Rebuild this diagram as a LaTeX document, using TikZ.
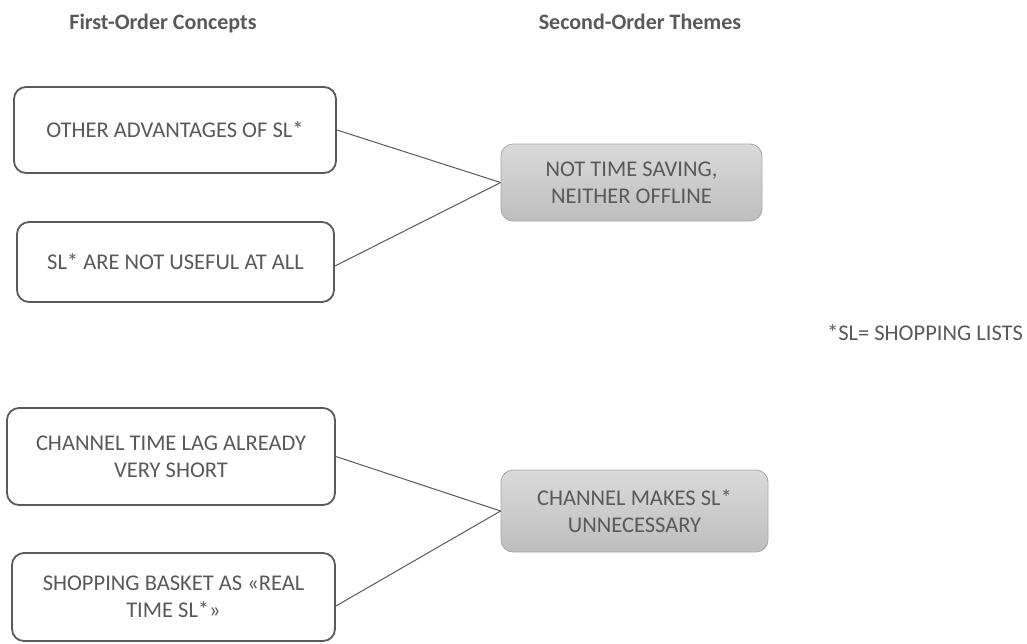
\documentclass[tikz,border=0pt]{standalone}
\usepackage{fontspec}
\setmainfont{Carlito}
\definecolor{txt}{HTML}{595959}
\definecolor{bord}{HTML}{5A5A5A}
\definecolor{gtop}{HTML}{DADADA}
\definecolor{gbot}{HTML}{BEBEBE}
\definecolor{gbord}{HTML}{A6A6A6}
\tikzset{
  concept/.style={draw=bord, line width=1.8pt, rounded corners=12pt, fill=white,
    align=center, text=txt, font=\fontsize{22.5}{27}\selectfont, inner sep=0pt},
  theme/.style={draw=gbord, line width=0.8pt, rounded corners=12pt, top color=gtop, bottom color=gbot,
    align=center, text=txt, font=\fontsize{22.5}{27}\selectfont, inner sep=0pt},
  title/.style={text=txt, font=\bfseries\fontsize{22}{26}\selectfont, inner sep=0pt, anchor=base},
  link/.style={draw=txt, line width=1pt}
}
\begin{document}
\begin{tikzpicture}[x=1pt,y=-1pt]
\useasboundingbox (0,0) rectangle (1027,643);
\begin{scope}
\clip (0,0) rectangle (1027,643);
\node[title] (t1) at (163,29) {First-Order Concepts};
\node[title] (t2) at (640,29) {Second-Order Themes};

\node[concept, minimum width=322pt, minimum height=86pt] (b1) at (175,130) {OTHER ADVANTAGES OF SL*};
\node[concept, minimum width=317pt, minimum height=80pt] (b2) at (175.5,262) {SL* ARE NOT USEFUL AT ALL};
\node[concept, minimum width=328pt, minimum height=97pt] (b3) at (171,456.5) {CHANNEL TIME LAG ALREADY\\VERY SHORT};
\node[concept, minimum width=323pt, minimum height=88pt] (b4) at (173.5,597) {SHOPPING BASKET AS «REAL\\TIME SL*»};

\node[theme, minimum width=261pt, minimum height=77pt] (g1) at (631.5,182.5) {NOT TIME SAVING,\\NEITHER OFFLINE};
\node[theme, minimum width=267pt, minimum height=82pt] (g2) at (634.5,511) {CHANNEL MAKES SL*\\UNNECESSARY};

\node[text=txt, font=\fontsize{22.5}{27}\selectfont, inner sep=0pt] (fn) at (925,333) {*SL= SHOPPING LISTS};

\draw[link] (b1.east) -- (g1.west);
\draw[link] ([yshift=-4pt]b2.east) -- (g1.west);
\draw[link] (b3.east) -- (g2.west);
\draw[link] ([yshift=-9pt]b4.east) -- (g2.west);
\end{scope}
\end{tikzpicture}
\end{document}
